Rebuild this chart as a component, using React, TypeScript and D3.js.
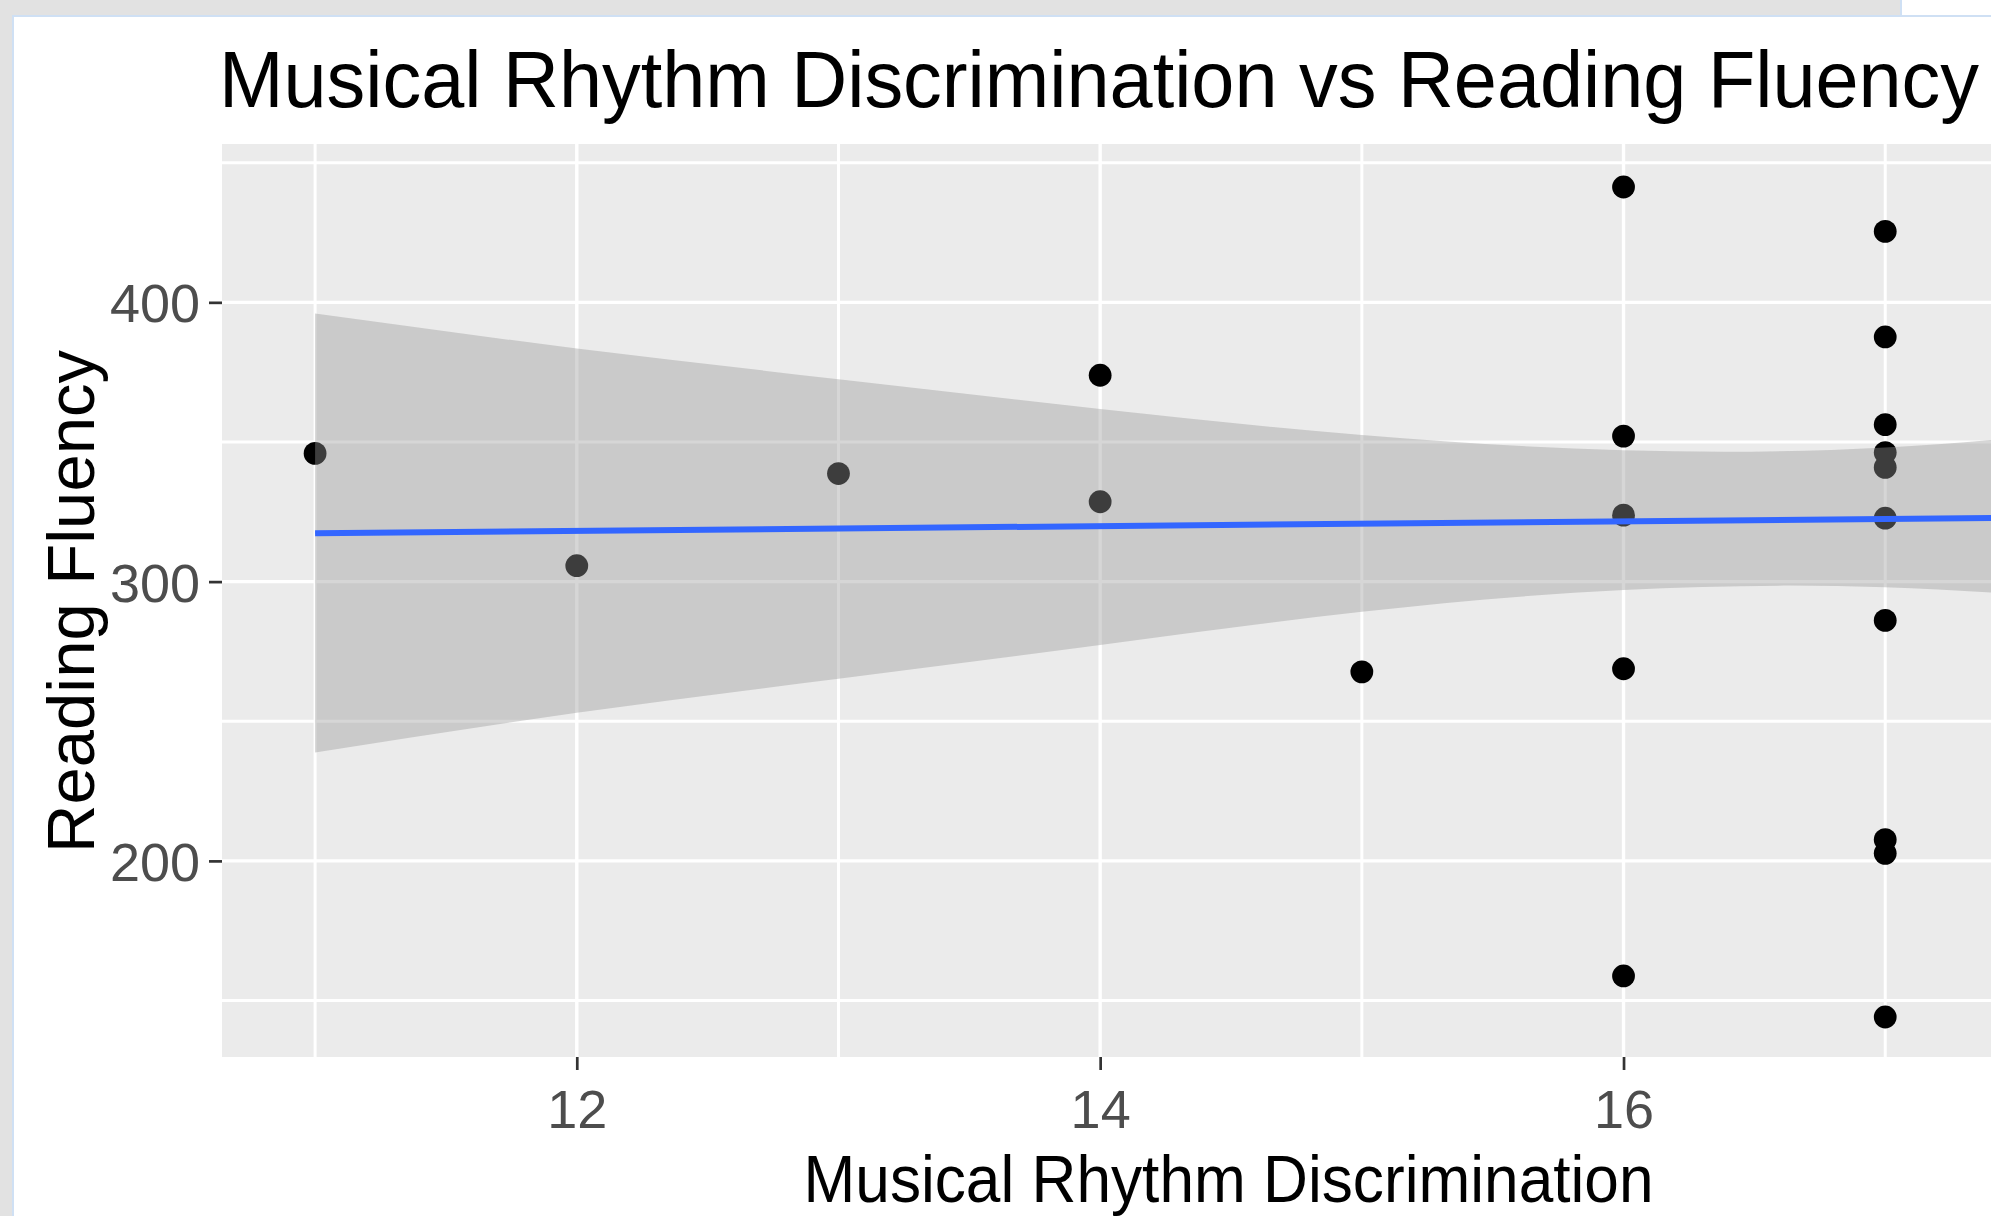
import React, { useEffect, useRef } from 'react';
import * as d3 from 'd3';

const W = 1991;
const H = 1216;

// scatter points: musical rhythm score vs reading fluency
const rhythm = [11, 12, 13, 14, 14, 15, 16, 16, 16, 16, 16, 17, 17, 17, 17, 17, 17, 17, 17, 17, 17];
const fluency = [345.9, 305.7, 338.7, 373.9, 328.6, 267.7, 441.3, 352.1, 323.8, 268.8, 158.8,
    425.4, 387.6, 356.2, 346.2, 340.9, 322.7, 286.1, 207.6, 202.7, 144.1];

// data range on x goes to 18 (those points are cut off on the right of the screenshot)
const xLimits = [11, 18];
const yLimits = [144.1, 441.3];

// lm smoother and its confidence band
const fitX = [11, 18];
const fitY = [317.3, 323.3];
const bandX = [11, 12, 13, 14, 15, 16, 17, 18];
const bandLow = [238.8, 253.0, 265.2, 277.3, 289.2, 297.0, 298.0, 291.8];
const bandHigh = [396.0, 383.5, 372.5, 361.8, 352.5, 347.0, 348.0, 356.0];

// 18 sits outside the visible part of the panel
const xMajor = [12, 14, 16];
const xMinor = [11, 13, 15, 17];
const yMajor = [200, 300, 400];
const yMinor = [150, 250, 350, 450];

const FONT = '"Liberation Sans", Arial, sans-serif';

function App() {
    const svgRef = useRef();

    useEffect(() => {
        const svg = d3.select(svgRef.current);
        svg.selectAll('*').remove();

        const left = 222, top = 144, right = 2237, bottom = 1057;

        const xPad = (xLimits[1] - xLimits[0]) * 0.05;
        const yPad = (yLimits[1] - yLimits[0]) * 0.05;
        const x = d3.scaleLinear()
            .domain([xLimits[0] - xPad, xLimits[1] + xPad])
            .range([left + 1.5, right + 1.5]);
        const y = d3.scaleLinear()
            .domain([yLimits[0] - yPad, yLimits[1] + yPad])
            .range([bottom + 1.5, top + 1.5]);

        // window chrome around the plot
        svg.append('rect').attr('width', W).attr('height', H).attr('fill', '#ffffff');
        svg.append('rect').attr('x', 0).attr('y', 0).attr('width', 1900).attr('height', 15).attr('fill', '#e2e2e2');
        svg.append('rect').attr('x', 1900).attr('y', 0).attr('width', 2).attr('height', 15).attr('fill', '#cfe0f4');
        svg.append('rect').attr('x', 0).attr('y', 15).attr('width', W).attr('height', 2).attr('fill', '#cfe0f4');
        svg.append('rect').attr('x', 0).attr('y', 0).attr('width', 12).attr('height', H).attr('fill', '#e2e2e2');
        svg.append('rect').attr('x', 12).attr('y', 15).attr('width', 2).attr('height', H).attr('fill', '#cfe0f4');

        // panel
        svg.append('rect')
            .attr('x', left).attr('y', top)
            .attr('width', right - left).attr('height', bottom - top)
            .attr('fill', '#ebebeb');

        const grid = svg.append('g').attr('stroke', '#ffffff');
        grid.selectAll('.ymin').data(yMinor).join('line')
            .attr('x1', left).attr('x2', right)
            .attr('y1', d => y(d)).attr('y2', d => y(d))
            .attr('stroke-width', 3);
        grid.selectAll('.xmin').data(xMinor).join('line')
            .attr('y1', top).attr('y2', bottom)
            .attr('x1', d => x(d)).attr('x2', d => x(d))
            .attr('stroke-width', 3);
        grid.selectAll('.ymaj').data(yMajor).join('line')
            .attr('x1', left).attr('x2', right)
            .attr('y1', d => y(d)).attr('y2', d => y(d))
            .attr('stroke-width', 3.4);
        grid.selectAll('.xmaj').data(xMajor).join('line')
            .attr('y1', top).attr('y2', bottom)
            .attr('x1', d => x(d)).attr('x2', d => x(d))
            .attr('stroke-width', 3.4);

        // points first, the band is drawn over them like ggplot does
        svg.selectAll('.pt')
            .data(rhythm)
            .join('circle')
            .attr('class', 'pt')
            .attr('cx', d => x(d))
            .attr('cy', (d, i) => y(fluency[i]))
            .attr('r', 11.4)
            .attr('fill', '#000000');

        const area = d3.area()
            .x(d => x(d))
            .y0((d, i) => y(bandLow[i]))
            .y1((d, i) => y(bandHigh[i]))
            .curve(d3.curveNatural);
        svg.append('path')
            .datum(bandX)
            .attr('d', area)
            .attr('fill', '#999999')
            .attr('fill-opacity', 0.4);

        const line = d3.line()
            .x(d => x(d))
            .y((d, i) => y(fitY[i]));
        svg.append('path')
            .datum(fitX)
            .attr('d', line)
            .attr('fill', 'none')
            .attr('stroke', '#3366ff')
            .attr('stroke-width', 6);

        // axes
        const yAxis = d3.axisLeft(y).tickValues(yMajor).tickSize(13).tickPadding(9);
        const gy = svg.append('g').attr('transform', `translate(${left},0)`).call(yAxis);
        const xAxis = d3.axisBottom(x).tickValues(xMajor).tickSize(13).tickPadding(20);
        const gx = svg.append('g').attr('transform', `translate(0,${bottom})`).call(xAxis);
        [gx, gy].forEach(g => {
            g.select('.domain').remove();
            g.selectAll('line').attr('stroke', '#333333').attr('stroke-width', 2.7);
            g.selectAll('text')
                .attr('fill', '#4d4d4d')
                .style('font-family', FONT)
                .style('font-size', '54px');
        });
        gy.selectAll('text').attr('dy', '0.36em');

        // titles
        svg.append('text')
            .attr('x', 219).attr('y', 107)
            .attr('textLength', 1760)
            .attr('lengthAdjust', 'spacingAndGlyphs')
            .style('font-family', FONT)
            .style('font-size', '79px')
            .attr('fill', '#000000')
            .text('Musical Rhythm Discrimination vs Reading Fluency');

        svg.append('text')
            .attr('x', 1228.5).attr('y', 1201.5)
            .attr('text-anchor', 'middle')
            .attr('textLength', 850)
            .attr('lengthAdjust', 'spacingAndGlyphs')
            .style('font-family', FONT)
            .style('font-size', '67px')
            .attr('fill', '#000000')
            .text('Musical Rhythm Discrimination');

        svg.append('text')
            .attr('transform', `translate(93.5,${(top + bottom) / 2 + 1}) rotate(-90)`)
            .attr('text-anchor', 'middle')
            .style('font-family', FONT)
            .style('font-size', '67px')
            .attr('fill', '#000000')
            .text('Reading Fluency');
    }, []);

    return (
        <svg
            ref={svgRef}
            width={W}
            height={H}
            style={{ position: 'absolute', left: 0, top: 0, display: 'block' }}
        />
    );
}

export default App;
